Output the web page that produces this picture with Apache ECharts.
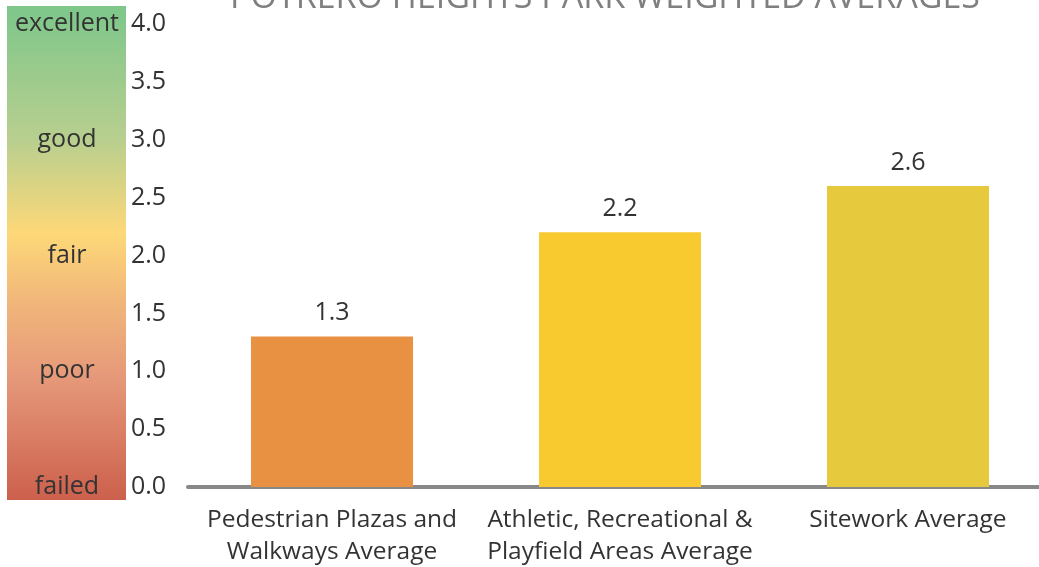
<!DOCTYPE html>
<html>
<head>
<meta charset="utf-8">
<script src="https://cdn.jsdelivr.net/npm/echarts@6/dist/echarts.min.js"></script>
<style>
  html, body { margin: 0; padding: 0; background: #fff; }
  #chart { width: 1039px; height: 567px; }
</style>
</head>
<body>
<div id="chart"></div>
<script>
// Weighted condition averages per feature group (0 = failed … 4 = excellent)
const titleText = 'POTRERO HEIGHTS PARK WEIGHTED AVERAGES';
const categories = [
  'Pedestrian Plazas and\nWalkways Average',
  'Athletic, Recreational &\nPlayfield Areas Average',
  'Sitework Average'
];
const values = [1.3, 2.2, 2.6];
const barColors = ['#e89143', '#f9c930', '#e6c93c'];
const ratingLabels = { 0: 'failed', 1: 'poor', 2: 'fair', 3: 'good', 4: 'excellent' };

const chart = echarts.init(document.getElementById('chart'), null, { renderer: 'canvas' });
const font = '"Open Sans", Lato, sans-serif';

chart.setOption({
  animation: false,
  title: {
    text: titleText,
    left: 600,
    textAlign: 'center',
    top: -24,
    textStyle: { fontFamily: font, fontSize: 34, fontWeight: 'normal', color: '#7f7f7f' }
  },
  graphic: [{
    type: 'rect',
    left: 7, top: 6, z: -1,
    shape: { width: 119, height: 494 },
    style: {
      fill: new echarts.graphic.LinearGradient(0, 0, 0, 1, [
        { offset: 0, color: '#7dc68a' },
        { offset: 0.27, color: '#b8cf8f' },
        { offset: 0.46, color: '#fdd878' },
        { offset: 0.60, color: '#f1b67a' },
        { offset: 0.75, color: '#e6997a' },
        { offset: 1, color: '#cc604d' }
      ])
    }
  }],
  // the plot runs past the right edge, so the last band is clipped
  grid: { left: 188, width: 864, top: 24, bottom: 80, outerBoundsMode: 'none', containLabel: false },
  xAxis: {
    type: 'category',
    data: categories,
    axisLine: { lineStyle: { color: '#888888', width: 4 } },
    axisTick: { show: false },
    axisLabel: { interval: 0, fontFamily: font, fontSize: 24.5, color: '#333', lineHeight: 32, margin: 17 }
  },
  yAxis: [{
    type: 'value',
    min: 0, max: 4, interval: 0.5,
    axisLine: { show: false },
    axisTick: { show: false },
    splitLine: { show: false },
    axisLabel: {
      fontFamily: font, fontSize: 25, color: '#333',
      align: 'left', margin: 57,
      formatter: v => v.toFixed(1)
    }
  }, {
    type: 'value',
    position: 'left',
    min: 0, max: 4, interval: 1,
    axisLine: { show: false },
    axisTick: { show: false },
    splitLine: { show: false },
    axisLabel: {
      fontFamily: font, fontSize: 25, color: '#333',
      align: 'center', margin: 121,
      formatter: v => ratingLabels[v] || ''
    }
  }],
  series: [{
    type: 'bar',
    barWidth: 162,
    data: values.map((v, i) => ({ value: v, itemStyle: { color: barColors[i] } })),
    label: {
      show: true, position: 'top', distance: 11,
      fontFamily: font, fontSize: 25, color: '#333',
      formatter: p => p.value.toFixed(1)
    }
  }]
});
</script>
</body>
</html>
